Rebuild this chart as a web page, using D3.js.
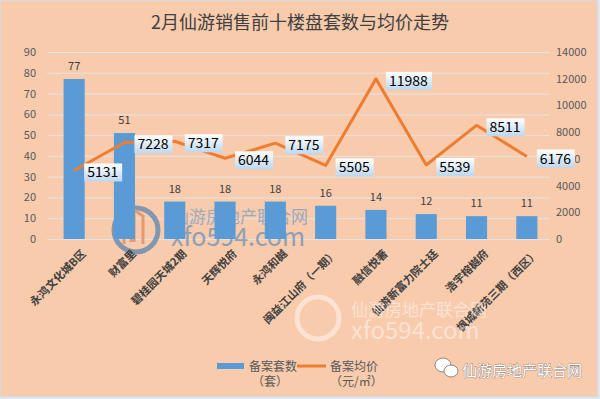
<!DOCTYPE html>
<html>
<head>
<meta charset="utf-8">
<script src="https://cdn.jsdelivr.net/npm/d3@7"></script>
<style>
  body { margin: 0; background: #dce6ee; }
  svg { display: block; }
</style>
</head>
<body>
<svg id="chart"></svg>
<script>
var width = 600,
    height = 399;

// chart data
var categories = ["永鸿文化城B区", "财富里", "碧桂园天城2期", "天辉悦府", "永鸿和樾",
                  "闽益江山府（一期）", "融信悦著", "仙游新富力院士廷", "浩宇榕樾府", "枫城新苑三期（西区）"];
var counts = [77, 51, 18, 18, 18, 16, 14, 12, 11, 11];
var prices = [5131, 7228, 7317, 6044, 7175, 5505, 11988, 5539, 8511, 6176];
var leftTicks = [0, 10, 20, 30, 40, 50, 60, 70, 80, 90];
var rightTicks = [0, 2000, 4000, 6000, 8000, 10000, 12000, 14000];

var font = "'Noto Sans CJK SC', 'Microsoft YaHei', sans-serif";
var serif = "'Noto Sans CJK SC', serif";

var svg = d3.select("#chart")
    .attr("width", width)
    .attr("height", height);

// gradient for the price labels
var grad = svg.append("defs").append("linearGradient")
    .attr("id", "lblGrad").attr("x1", 0).attr("y1", 0).attr("x2", 0).attr("y2", 1);
grad.append("stop").attr("offset", "0%").attr("stop-color", "#ffffff");
grad.append("stop").attr("offset", "100%").attr("stop-color", "#bdd7ee");

// background
svg.append("rect")
    .attr("x", 0.5).attr("y", 0.5)
    .attr("width", width - 3).attr("height", height - 3)
    .attr("fill", "#f8cbad")
    .attr("stroke", "#d9d9d9");

// title
svg.append("text")
    .attr("x", 300).attr("y", 29)
    .attr("text-anchor", "middle")
    .style("font-family", serif)
    .style("font-size", "18px")
    .style("fill", "#404040")
    .text("2月仙游销售前十楼盘套数与均价走势");

var x = d3.scaleBand()
    .domain(categories)
    .range([49, 552])
    .paddingInner(0.58)
    .paddingOuter(0.29);

var yL = d3.scaleLinear().domain([0, 90]).range([239, 52]);
var yR = d3.scaleLinear().domain([0, 14000]).range([239, 52]);

// gridlines
svg.append("g")
  .selectAll("line")
  .data(leftTicks)
  .join("line")
    .attr("x1", 47).attr("x2", 550)
    .attr("y1", function(d) { return yL(d) + 0.5; })
    .attr("y2", function(d) { return yL(d) + 0.5; })
    .attr("stroke", "#e3e3e3")
    .attr("stroke-width", 1);

// left axis
var leftAxis = svg.append("g")
    .attr("transform", "translate(40,0)")
    .call(d3.axisLeft(yL).tickValues(leftTicks).tickSize(0).tickPadding(4));
leftAxis.select(".domain").remove();
leftAxis.selectAll("text")
    .style("font-family", font).style("font-size", "11px").style("fill", "#595959");

// right axis
var rightAxis = svg.append("g")
    .attr("transform", "translate(552,0)")
    .call(d3.axisRight(yR).tickValues(rightTicks).tickFormat(d3.format("d")).tickSize(0).tickPadding(4));
rightAxis.select(".domain").remove();
rightAxis.selectAll("text")
    .style("font-family", font).style("font-size", "11px").style("fill", "#595959");

// watermark 1
var wm1 = svg.append("g").attr("opacity", 0.75);
wm1.append("circle").attr("cx", 136).attr("cy", 230).attr("r", 22)
    .attr("fill", "none").attr("stroke", "#5b86b0").attr("stroke-width", 5);
wm1.append("path").attr("d", "M124,244 V222 L131,216 V242 M134,242 V210 L143,216 V244")
    .attr("fill", "none").attr("stroke", "#e08a5c").attr("stroke-width", 3);
wm1.append("text").attr("x", 172).attr("y", 223)
    .style("font-family", font).style("font-size", "17px").style("fill", "#7f9fc2")
    .text("仙游房地产联合网");
wm1.append("text").attr("x", 171).attr("y", 246)
    .style("font-family", font).style("font-size", "25px").style("fill", "#6e8fb4")
    .text("xfo594.com");

// bars
svg.append("g")
  .selectAll("rect")
  .data(counts)
  .join("rect")
    .attr("x", function(d, i) { return x(categories[i]); })
    .attr("y", function(d) { return yL(d); })
    .attr("width", x.bandwidth())
    .attr("height", function(d) { return yL(0) - yL(d); })
    .attr("fill", "#5b9bd5");

// bar labels
svg.append("g")
  .selectAll("text")
  .data(counts)
  .join("text")
    .attr("x", function(d, i) { return x(categories[i]) + x.bandwidth() / 2; })
    .attr("y", function(d) { return yL(d) - 9; })
    .attr("text-anchor", "middle")
    .style("font-family", font).style("font-size", "11px").style("fill", "#404040")
    .text(function(d) { return d; });

// price line
var line = d3.line()
    .x(function(d, i) { return x(categories[i]) + x.bandwidth() / 2; })
    .y(function(d) { return yR(d); });

svg.append("path")
    .datum(prices)
    .attr("d", line)
    .attr("fill", "none")
    .attr("stroke", "#ed7d31")
    .attr("stroke-width", 3)
    .attr("stroke-linejoin", "round");

// price labels
var lbl = svg.append("g")
  .selectAll("g")
  .data(prices)
  .join("g")
    .attr("transform", function(d, i) {
      return "translate(" + (x(categories[i]) + x.bandwidth() / 2 + 10) + "," + (yR(d) + 2) + ")";
    });
lbl.append("rect")
    .attr("x", 0).attr("y", -9)
    .attr("width", function(d) { return String(d).length * 8 + 6; })
    .attr("height", 18)
    .attr("fill", "url(#lblGrad)");
lbl.append("text")
    .attr("x", 3).attr("y", 5)
    .style("font-family", font).style("font-size", "14px").style("fill", "#000")
    .text(function(d) { return d; });

// category labels
svg.append("g")
  .selectAll("text")
  .data(categories)
  .join("text")
    .attr("transform", function(d) {
      return "translate(" + (x(d) + x.bandwidth() / 2 + 7) + ",249) rotate(-45)";
    })
    .attr("text-anchor", "end")
    .attr("dy", "0.7em")
    .style("font-family", serif).style("font-size", "11px")
    .style("font-weight", "bold").style("fill", "#404040")
    .text(function(d) { return d; });

// watermark 2
var wm2 = svg.append("g").attr("opacity", 0.45);
wm2.append("circle").attr("cx", 318).attr("cy", 318).attr("r", 21)
    .attr("fill", "none").attr("stroke", "#ffffff").attr("stroke-width", 5);
wm2.append("text").attr("x", 351).attr("y", 316)
    .style("font-family", font).style("font-size", "17px").style("fill", "#ffffff")
    .text("仙游房地产联合网");
wm2.append("text").attr("x", 351).attr("y", 339)
    .style("font-family", font).style("font-size", "24px").style("fill", "#ffffff")
    .text("xfo594.com");

// legend
var legend = svg.append("g").style("font-family", font).style("font-size", "12px").style("fill", "#595959");
legend.append("rect").attr("x", 217).attr("y", 363).attr("width", 27).attr("height", 6).attr("fill", "#5b9bd5");
legend.append("text").attr("x", 249).attr("y", 371).text("备案套数");
legend.append("text").attr("x", 252).attr("y", 386).text("（套）");
legend.append("line").attr("x1", 297).attr("x2", 326).attr("y1", 366).attr("y2", 366)
    .attr("stroke", "#ed7d31").attr("stroke-width", 3);
legend.append("text").attr("x", 330).attr("y", 371).text("备案均价");
legend.append("text").attr("x", 330).attr("y", 386).text("（元/㎡）");

// wechat mark
var wx = svg.append("g");
wx.append("ellipse").attr("cx", 443).attr("cy", 365).attr("rx", 8).attr("ry", 7)
    .attr("fill", "#ffffff").attr("stroke", "#888").attr("stroke-width", 1);
wx.append("ellipse").attr("cx", 451).attr("cy", 371).attr("rx", 7).attr("ry", 6)
    .attr("fill", "#ffffff").attr("stroke", "#888").attr("stroke-width", 1);
wx.append("text").attr("x", 462).attr("y", 376)
    .style("font-family", font).style("font-size", "15px")
    .style("fill", "#ffffff").style("stroke", "#666").style("stroke-width", 0.6)
    .style("paint-order", "stroke")
    .text("仙游房地产联合网");
</script>
</body>
</html>
